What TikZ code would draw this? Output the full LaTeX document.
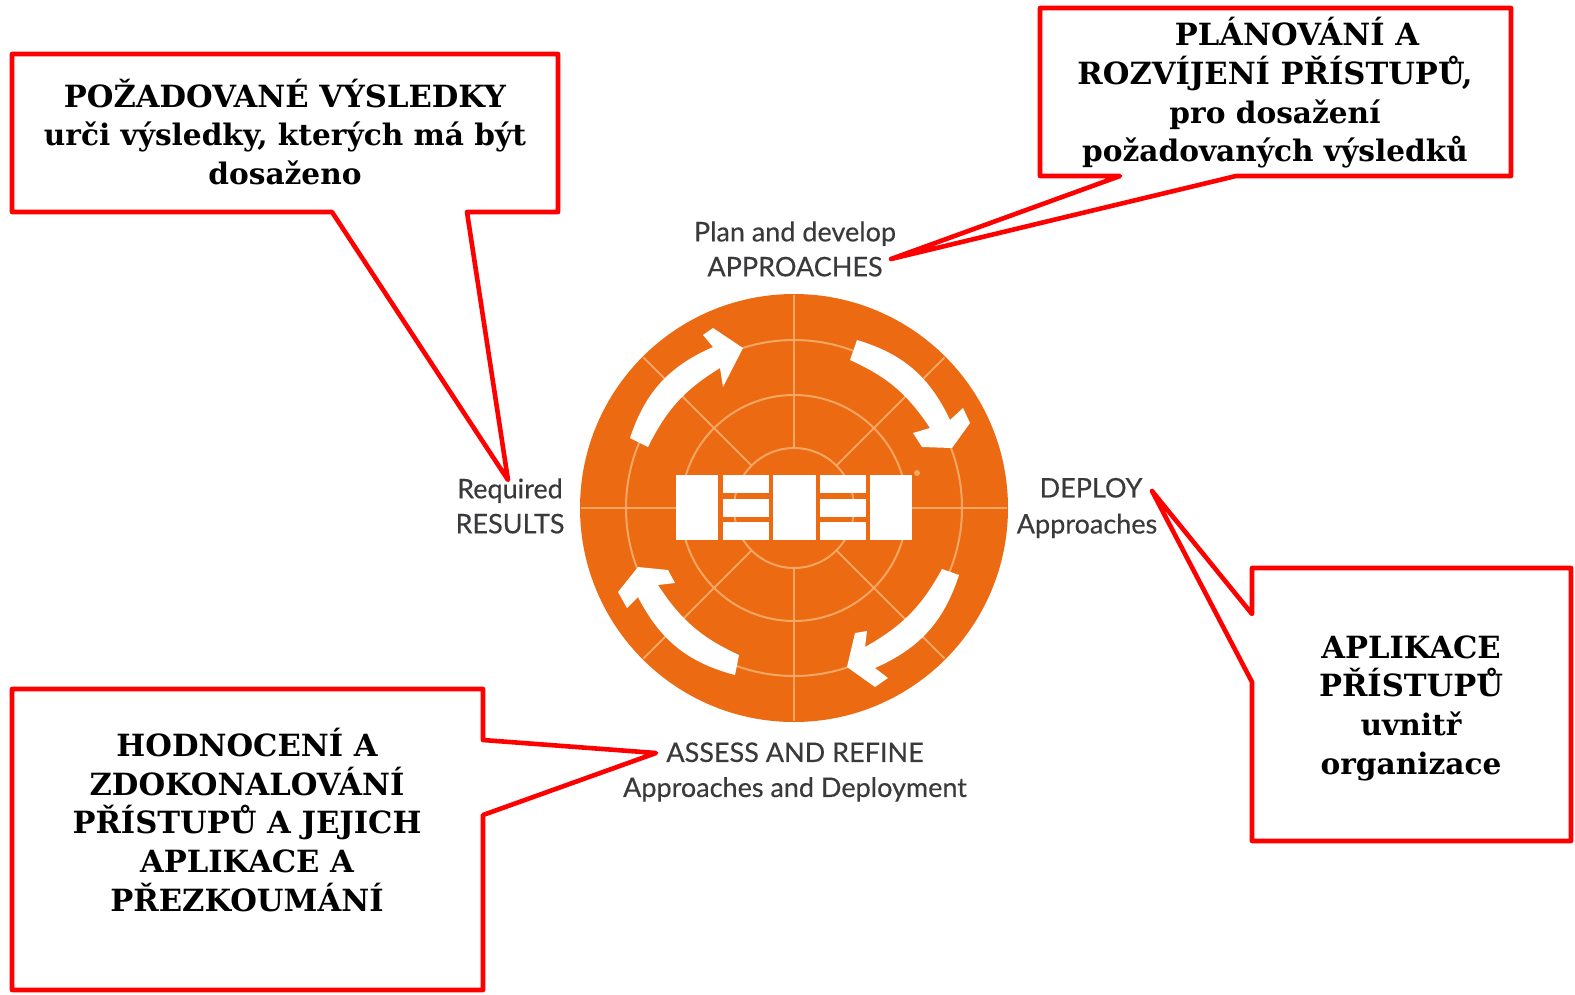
\documentclass[tikz,border=0pt]{standalone}
\usepackage{fontspec}
\newfontfamily\boxfont{DejaVu Serif}
\newfontfamily\labfont{Lato}[FakeBold=0.35]
\newcommand{\lcline}[1]{{\fontsize{29.6}{38.7}\selectfont #1}}
\definecolor{disc}{HTML}{EC6A12}
\definecolor{ringc}{HTML}{F5A663}
\definecolor{labc}{HTML}{3A3A3C}
\tikzset{
  callout/.style={draw=red,line width=4.6pt,line join=round,fill=white},
  boxtext/.style={font=\boxfont\bfseries\fontsize{30.6}{38.7}\selectfont,align=center,text=black,inner sep=0pt},
  labeltext/.style={font=\labfont\fontsize{27}{35}\selectfont,align=center,text=labc,inner sep=0pt},
  ringline/.style={draw=ringc,line width=2pt},
  whiteshape/.style={fill=white,draw=none},
}
\begin{document}
\begin{tikzpicture}[x=1pt,y=-1pt]
\useasboundingbox (0,0) rectangle (1575,994);
\coordinate (c) at (794,508);
% disc
\fill[disc] (c) circle[radius=214pt];
\begin{scope}[shift={(c)}]
  \foreach \r in {60,113,168} \draw[ringline] (0,0) circle[radius=\r pt];
  \foreach \a in {90,270,45,135,225,315} \draw[ringline] (\a:60pt) -- (\a:213pt);
  \foreach \a in {0,180} \draw[ringline] (\a:118pt) -- (\a:213pt);
\end{scope}
% logo
\foreach \xa/\xb in {676/718,773/816,870/912} \fill[whiteshape] (\xa,475) rectangle (\xb,540);
\foreach \xa/\xb in {723/769,820/866}
  \foreach \ya/\yb in {475/493,499/517,522/540}
    \fill[whiteshape] (\xa,\ya) rectangle (\xb,\yb);
\fill[ringc] (917,473) circle[radius=3pt];
% arrows
\fill[whiteshape] (630,438) to[bend left=24] (713,347) -- (703,335) -- (713,328) -- (743,348) -- (723,387) -- (720,368) to[bend right=16] (648,447) -- cycle;
\fill[whiteshape] (857,340) to[bend left=24] (950,420) -- (963,408) -- (970,423) -- (952,448) -- (922,447) -- (913,433) -- (930,428) to[bend right=16] (850,360) -- cycle;
\fill[whiteshape] (959,575) to[bend left=24] (875,668) -- (888,678) -- (875,687) -- (847,667) -- (855,633) -- (867,631) -- (865,647) to[bend right=16] (942,569) -- cycle;
\fill[whiteshape] (735,675) to[bend left=24] (638,597) -- (627,608) -- (618,592) -- (638,567) -- (668,570) -- (675,583) -- (658,585) to[bend right=16] (739,655) -- cycle;
% callouts
\coordinate (t1) at (508,480);
\coordinate (t2) at (891,259);
\coordinate (t3) at (1152,491);
\coordinate (t4) at (656,753);
\draw[callout] (12,54) -- (558,54) -- (558,212) -- (467,212) -- (t1) -- (332,212) -- (12,212) -- cycle;
\draw[callout] (1040,8) -- (1511,8) -- (1511,176) -- (1236,176) -- (t2) -- (1120,176) -- (1040,176) -- cycle;
\draw[callout] (1252,568) -- (1571,568) -- (1571,841) -- (1252,841) -- (1252,682) -- (t3) -- (1252,614) -- cycle;
\draw[callout] (12,689) -- (483,689) -- (483,740) -- (t4) -- (483,815) -- (483,990) -- (12,990) -- cycle;
% callout texts
\node[boxtext] (n1) at (285,132) {POŽADOVANÉ VÝSLEDKY\\\lcline{urči výsledky, kterých má být}\\\lcline{dosaženo}};
\node[boxtext] (n2) at (1275,93) {\hspace*{44pt}PLÁNOVÁNÍ A\\ROZVÍJENÍ PŘÍSTUPŮ,\\\lcline{pro dosažení}\\\lcline{požadovaných výsledků}};
\node[boxtext] (n3) at (1411,708) {APLIKACE\\PŘÍSTUPŮ\\\lcline{uvnitř}\\\lcline{organizace}};
\node[boxtext] (n4) at (247,820) {HODNOCENÍ A\\ZDOKONALOVÁNÍ\\PŘÍSTUPŮ A JEJICH\\APLIKACE A\\PŘEZKOUMÁNÍ};
% labels
\node[labeltext] (l1) at (795,249) {Plan and develop\\APPROACHES};
\node[labeltext] (l2) at (510,506) {Required\\RESULTS};
\node[labeltext,font=\labfont\fontsize{27}{36}\selectfont] (l3) at (1087,508) {\hspace*{8pt}DEPLOY\\Approaches};
\node[labeltext] (l4) at (795,772) {ASSESS AND REFINE\\Approaches and Deployment};
\end{tikzpicture}
\end{document}
